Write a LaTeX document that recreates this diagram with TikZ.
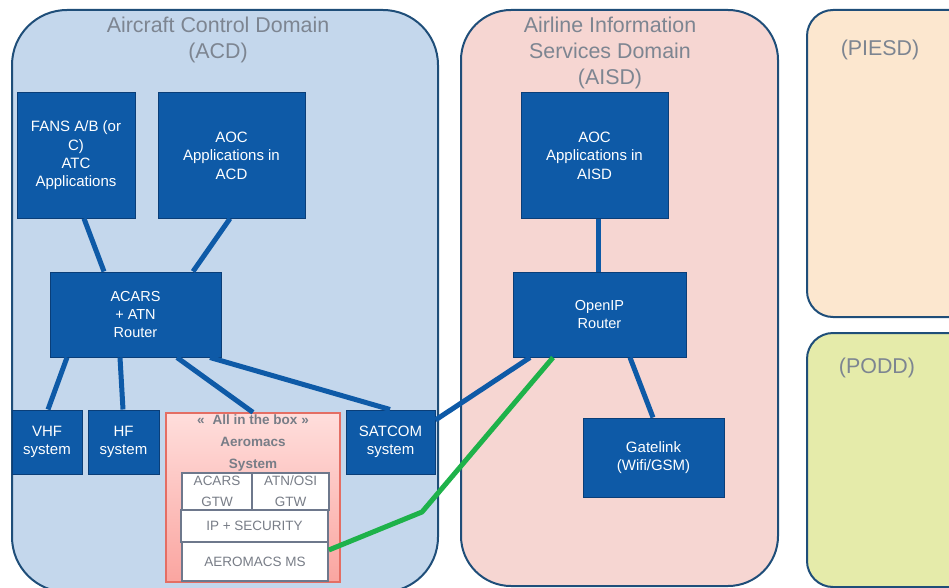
\documentclass[tikz,border=0pt]{standalone}
\usepackage{fontspec}
\setmainfont{Liberation Sans}
\usetikzlibrary{calc}
\definecolor{acdfill}{RGB}{196,215,236}
\definecolor{aisdfill}{RGB}{246,214,210}
\definecolor{piesdfill}{RGB}{252,231,207}
\definecolor{poddfill}{RGB}{229,235,170}
\definecolor{domborder}{RGB}{31,78,121}
\definecolor{boxfill}{RGB}{14,90,167}
\definecolor{boxborder}{RGB}{10,62,120}
\definecolor{linkblue}{RGB}{14,90,167}
\definecolor{linkgreen}{RGB}{30,178,74}
\definecolor{titlegray}{RGB}{125,133,145}
\definecolor{aerotop}{RGB}{255,222,220}
\definecolor{aerobot}{RGB}{250,165,160}
\definecolor{aeroborder}{RGB}{228,110,100}
\definecolor{innerborder}{RGB}{110,120,140}
\definecolor{innertext}{RGB}{120,125,135}
\tikzset{
  dombox/.style={draw=domborder, line width=2pt},
  domtitle/.style={text=titlegray, font=\fontsize{21.4}{25.8}\selectfont, align=center},
  bluebox/.style={draw=boxborder, line width=1pt, fill=boxfill, text=white, align=center, inner sep=0pt, font=\fontsize{15}{18.4}\selectfont},
  smallbox/.style={bluebox, font=\fontsize{14.5}{17.8}\selectfont},
  innerbox/.style={draw=innerborder, line width=1.6pt, fill=white, text=innertext, align=center, inner sep=0pt, font=\fontsize{13.5}{21}\selectfont},
  link/.style={draw=linkblue, line width=5pt},
  greenlink/.style={draw=linkgreen, line width=5pt},
}
\begin{document}
\begin{tikzpicture}[x=1pt,y=-1pt]
\useasboundingbox (0,0) rectangle (949,588);
\begin{scope}
\clip (0,0) rectangle (949,588);
% domains
\draw[dombox, fill=acdfill, rounded corners=55pt] (12,10) rectangle (438,592);
\draw[dombox, fill=aisdfill, rounded corners=50pt] (461,10) rectangle (778,586);
\draw[dombox, fill=piesdfill, rounded corners=26pt] (807,10) rectangle (975,317);
\draw[dombox, fill=poddfill, rounded corners=26pt] (807,333) rectangle (975,587);
\end{scope}
\node[domtitle] (tacd) at (218,40) {Aircraft Control Domain\\(ACD)};
\node[domtitle] (taisd) at (610,53) {Airline Information\\Services Domain\\(AISD)};
\node[domtitle] (tpiesd) at (880,50) {(PIESD)};
\node[domtitle] (tpodd) at (877,368) {(PODD)};
% ACD boxes
\node[bluebox, minimum width=118pt, minimum height=125pt] (fans) at (76,155.5) {FANS A/B (or\\C)\\ATC\\Applications};
\node[bluebox, minimum width=147pt, minimum height=125pt] (aocacd) at (231.5,155.5) {AOC\\Applications in\\ACD};
\node[smallbox, minimum width=171pt, minimum height=85pt] (acars) at (135.5,314.5) {ACARS\\+ ATN\\Router};
\node[bluebox, minimum width=70pt, minimum height=64pt] (vhf) at (47,442) {VHF\\system};
\node[bluebox, minimum width=71pt, minimum height=64pt] (hf) at (123.5,442) {HF\\system};
\node[bluebox, minimum width=89pt, minimum height=64pt] (satcom) at (390.5,442) {SATCOM\\system};
% Aeromacs
\node[draw=aeroborder, line width=1.2pt, top color=aerotop, bottom color=aerobot, minimum width=174pt, minimum height=169pt, inner sep=0pt] (aero) at (253,497.5) {};
\node[text=innertext, font=\bfseries\fontsize{13.5}{22}\selectfont, align=center, anchor=north] (aerot) at (253,411) {«\hspace{0.6em}All in the box\hspace{0.3em}»\\Aeromacs\\System};
\node[innerbox, minimum width=70pt, minimum height=37pt] (acgtw) at (217,491.5) {ACARS\\GTW};
\node[innerbox, minimum width=77pt, minimum height=37pt] (atngtw) at (290.5,491.5) {ATN/OSI\\GTW};
\node[innerbox, minimum width=147pt, minimum height=32pt] (ipsec) at (254.5,526) {IP + SECURITY};
\node[innerbox, minimum width=146pt, minimum height=39pt] (ms) at (255,561.5) {AEROMACS MS};
% AISD boxes
\node[bluebox, minimum width=147pt, minimum height=125pt] (aocaisd) at (594.5,155.5) {AOC\\Applications in\\AISD};
\node[smallbox, minimum width=173pt, minimum height=85pt] (openip) at (599.5,314.5) {OpenIP\\Router};
\node[bluebox, minimum width=141pt, minimum height=79pt] (gatelink) at (653.5,457.5) {Gatelink\\(Wifi/GSM)};
% connectors
\draw[link] ([xshift=8pt]fans.south) -- ([xshift=-31.5pt]acars.north);
\draw[link] ([xshift=-1.5pt]aocacd.south) -- ([xshift=57.5pt]acars.north);
\draw[link] ([xshift=-68.5pt]acars.south) -- ([xshift=1pt]vhf.north);
\draw[link] ([xshift=-15.5pt]acars.south) -- ([xshift=-0.5pt]hf.north);
\draw[link] ([xshift=41.5pt]acars.south) -- (aero.north);
\draw[link] ([xshift=74.5pt]acars.south) -- ([xshift=-0.5pt]satcom.north);
\draw[link] ([yshift=22pt]satcom.east) -- ([xshift=-69.5pt]openip.south);
\draw[link] ([xshift=-1.5pt]openip.north) -- ([xshift=3.5pt]aocaisd.south);
\draw[link] ([xshift=30.5pt]openip.south) -- ([xshift=-0.5pt]gatelink.north);
\coordinate (gbend) at (422,512);
\draw[greenlink, line join=round] ([yshift=11.5pt]ms.east) -- (gbend) -- ([xshift=-46.5pt]openip.south);
\end{tikzpicture}
\end{document}
